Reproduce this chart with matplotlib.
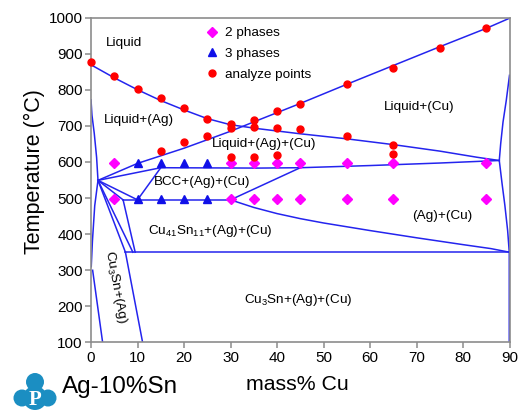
import matplotlib
matplotlib.use("Agg")
import matplotlib.pyplot as plt
from matplotlib.patches import Circle

plt.rcParams["font.family"] = ["Liberation Sans", "DejaVu Sans"]
plt.rcParams["mathtext.fontset"] = "custom"
plt.rcParams["mathtext.rm"] = "Liberation Sans"
plt.rcParams["mathtext.it"] = "Liberation Sans"

# measured points
two_x = [5, 30, 35, 40, 45, 55, 65, 85, 5, 30, 35, 40, 45, 55, 65, 85]
two_t = [597, 597, 597, 597, 597, 597, 597, 597, 497, 497, 497, 497, 497, 497, 497, 497]
three_x = [10, 15, 20, 25, 10, 15, 20, 25]
three_t = [598, 598, 598, 598, 496, 496, 496, 496]
pts_x = [0, 5, 10, 15, 20, 25, 30, 30, 35, 35, 40, 40, 40, 45, 45, 55, 55,
         65, 65, 65, 75, 85, 25, 20, 15, 30, 35]
pts_t = [878, 837, 803, 776, 749, 720, 704, 694, 715, 696, 740, 694, 619, 760, 691, 815, 671,
         861, 647, 622, 915, 970, 673, 656, 631, 613, 615]

# phase boundaries (mass% Cu, degC)
ag_liq_x = [0, 5, 10, 15, 20, 25, 30, 36, 45, 55, 65, 75, 83, 87.8]
ag_liq_t = [869, 833, 800, 770, 744, 720, 703, 692, 678, 664, 648, 630, 613, 604]
cu_liq_x = [1.5, 10, 20, 30, 36, 45, 55, 65, 75, 85, 90]
cu_liq_t = [549, 596, 638, 685, 716, 762, 815, 867, 919, 970, 998]
upper_x = [1.5, 15, 36, 45, 60, 75, 87.8]
upper_t = [549, 584, 583, 584, 590, 597, 604]
lower_x = [30, 35, 40, 45, 50, 60, 70, 80, 86, 90]
lower_t = [495, 474, 457, 443, 431, 410, 390, 371, 360, 350]
cu_sol_x = [90, 89.3, 88.6, 88.1, 87.8]
cu_sol_t = [840, 770, 710, 650, 604]
cu_solv_x = [87.8, 88.4, 89.0, 89.6, 89.95, 89.95]
cu_solv_t = [604, 540, 480, 410, 350, 100]
ag_sol_x = [0, 0.2, 0.7, 1.2, 1.5]
ag_sol_t = [772, 730, 679, 613, 549]
ag_solv_x = [1.5, 0.8, 0.3, 0.05]
ag_solv_t = [549, 479, 380, 310]
segments = [
    ([0.35, 2.5], [300, 100]),
    ([1.5, 6.9], [549, 495]),
    ([1.5, 10], [549, 495]),
    ([1.5, 7.4], [549, 350]),
    ([1.5, 9.0], [549, 350]),
    ([6.9, 9.5], [495, 350]),
    ([6.9, 30], [495, 495]),
    ([10, 15], [495, 584]),
    ([30, 45], [495, 584]),
    ([7.4, 90], [350, 350]),
    ([7.4, 11.1], [350, 100]),
]

labels = ["Liquid", "Liquid+(Ag)", "Liquid+(Ag)+(Cu)", "BCC+(Ag)+(Cu)", "Liquid+(Cu)",
          "(Ag)+(Cu)", "Cu$_{41}$Sn$_{11}$+(Ag)+(Cu)", "Cu$_3$Sn+(Ag)+(Cu)"]
label_x = [3.2, 2.7, 25.9, 13.5, 63, 69, 12.2, 33]
label_t = [929, 716, 650, 544, 752, 449, 410, 217]

line_c = "#2424ee"
fig = plt.figure(figsize=(5.18, 4.11), dpi=100)
ax = fig.add_axes([0.1757, 0.1667, 0.8079, 0.7907])

for xs, ts in [(ag_liq_x, ag_liq_t), (cu_liq_x, cu_liq_t), (upper_x, upper_t),
               (lower_x, lower_t), (cu_sol_x, cu_sol_t), (cu_solv_x, cu_solv_t),
               (ag_sol_x, ag_sol_t), (ag_solv_x, ag_solv_t)] + segments:
    ax.plot(xs, ts, color=line_c, lw=1.1, zorder=2)

ax.plot(two_x, two_t, "D", color="#ff00ff", ms=4.6, ls="none", label="2 phases", zorder=3)
ax.plot(three_x, three_t, "^", color="#1010e8", ms=6, ls="none", label="3 phases", zorder=3)
ax.plot(pts_x, pts_t, "o", color="#ff0000", ms=5, ls="none", label="analyze points",
        zorder=4, clip_on=False)

for s, x, t in zip(labels, label_x, label_t):
    ax.text(x, t, s, fontsize=9.7, va="center", ha="left")
ax.text(5.2, 253, "Cu$_3$Sn+(Ag)", fontsize=9.7, rotation=-79.5, ha="center", va="center",
        rotation_mode="anchor")

ax.legend(loc="upper left", bbox_to_anchor=(0.24, 1.0), frameon=False, fontsize=9.7,
          handlelength=1.6, handletextpad=0.2, labelspacing=0.62, borderaxespad=0.3)

ax.set_xlim(0, 90)
ax.set_ylim(100, 1000)
ax.set_xticks(range(0, 91, 10))
ax.set_yticks(range(100, 1001, 100))
for sp in ax.spines.values():
    sp.set_color("#8c8c8c")
    sp.set_linewidth(1.2)
ax.tick_params(colors="#8c8c8c", labelcolor="black", labelsize=11, length=4, width=1.1, pad=2)
ax.set_ylabel("Temperature (°C)", fontsize=15.5)
ax.yaxis.set_label_coords(-0.11, 0.525)
fig.text(297 / 518, 1 - 384 / 411, "mass% Cu", fontsize=15.3, ha="center", va="center")
fig.text(62 / 518, 1 - 387 / 411, "Ag-10%Sn", fontsize=17.5, ha="left", va="center")

# logo
lg = fig.add_axes([10 / 518, 0, 52 / 518, 45 / 411])
lg.set_xlim(10, 62)
lg.set_ylim(411, 366)
lg.set_aspect("equal")
lg.axis("off")
logo_c = "#1b8ec2"
for cx, cy, r in [(35, 382, 9), (22, 398, 8.5), (48, 398, 8.5), (35, 398, 12)]:
    lg.add_patch(Circle((cx, cy), r, color=logo_c, lw=0))
lg.text(35, 400, "P", color="white", fontsize=15, fontweight="bold", family="Liberation Serif",
        ha="center", va="center")

fig.savefig("out.png", dpi=100)
